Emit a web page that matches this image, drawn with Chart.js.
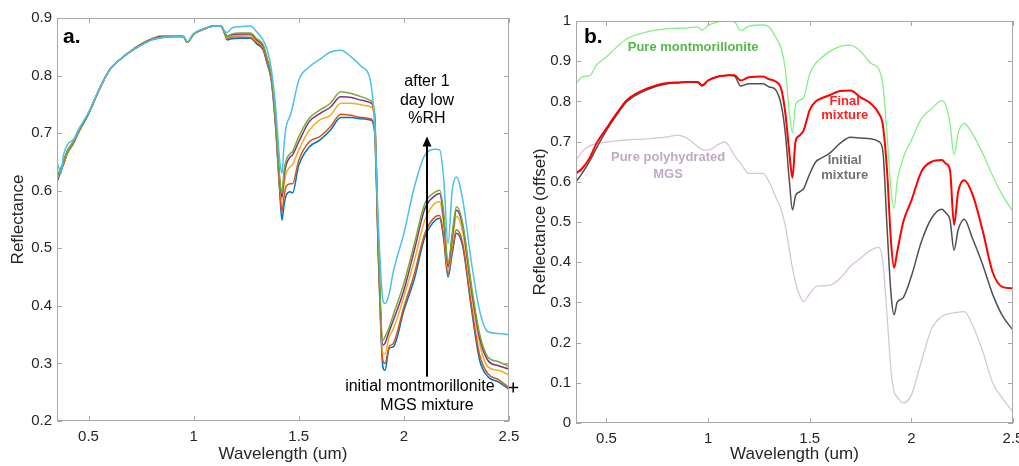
<!DOCTYPE html>
<html>
<head>
<meta charset="utf-8">
<script src="https://cdn.jsdelivr.net/npm/chart.js@4.4.0/dist/chart.umd.min.js"></script>
<style>
html, body { margin: 0; padding: 0; background: #fff; width: 1019px; height: 466px; overflow: hidden; }
canvas { position: absolute; top: 0; }
#graficoA { left: 0; }
#graficoB { left: 512px; }
</style>
</head>
<body>
<canvas id="graficoA" width="540" height="466"></canvas>
<canvas id="graficoB" width="507" height="466"></canvas>
<script>
// Panel a: espectros de la mezcla montmorillonita + MGS
const longOndaA = [0.35,0.37,0.38,0.40,0.43,0.45,0.50,0.55,0.60,0.65,0.70,0.75,0.80,0.85,0.90,0.95,0.97,1.00,1.05,1.10,
  1.13,1.15,1.16,1.18,1.22,1.27,1.30,1.33,1.35,1.37,1.39,1.41,1.42,1.43,1.44,1.46,1.47,1.50,1.55,1.60,
  1.65,1.70,1.75,1.80,1.84,1.86,1.88,1.90,1.91,1.93,1.95,2.00,2.05,2.10,2.15,2.17,2.19,2.21,2.23,2.25,
  2.28,2.32,2.36,2.40,2.45,2.50];

const azulA = [.615,.635,.645,.665,.683,.70,.734,.775,.81,.828,.842,.853,.862,.866,.868,.868,.858,.872,.881,.886,
  .886,.87,.862,.864,.865,.865,.855,.845,.82,.79,.71,.595,.549,.575,.592,.598,.596,.644,.676,.688,
  .705,.727,.727,.725,.723,.705,.47,.294,.288,.326,.329,.392,.447,.52,.549,.552,.514,.45,.491,.526,
  .503,.398,.306,.277,.268,.255];
const naranjaA = [.62,.638,.645,.667,.685,.70,.734,.775,.81,.828,.842,.854,.863,.869,.869,.868,.858,.872,.881,.886,
  .886,.871,.864,.867,.867,.866,.857,.847,.822,.792,.712,.60,.563,.59,.608,.612,.612,.653,.685,.694,
  .711,.733,.731,.727,.725,.708,.475,.305,.30,.329,.335,.398,.456,.526,.555,.557,.52,.455,.497,.532,
  .508,.405,.315,.282,.272,.258];
const amarilloA = [.62,.64,.648,.668,.685,.70,.735,.776,.81,.828,.843,.855,.864,.869,.869,.868,.858,.872,.881,.886,
  .886,.872,.866,.869,.870,.869,.860,.850,.825,.795,.716,.61,.584,.61,.63,.642,.645,.671,.705,.723,
  .731,.752,.752,.749,.746,.728,.48,.318,.317,.346,.36,.416,.479,.549,.579,.581,.54,.462,.51,.555,
  .528,.423,.335,.294,.288,.28];
const moradoA = [.625,.64,.65,.67,.686,.70,.734,.775,.81,.828,.842,.854,.863,.868,.868,.868,.858,.872,.881,.886,
  .886,.873,.868,.871,.872,.872,.862,.852,.827,.797,.72,.615,.589,.625,.645,.659,.662,.685,.72,.734,
  .745,.763,.762,.757,.753,.734,.485,.332,.335,.356,.375,.427,.497,.569,.592,.595,.55,.468,.52,.566,
  .538,.433,.345,.305,.296,.29];
const verdeA = [.625,.64,.65,.67,.686,.70,.734,.775,.81,.828,.842,.853,.862,.867,.868,.868,.858,.872,.881,.886,
  .886,.873,.868,.872,.874,.874,.864,.854,.83,.80,.722,.62,.595,.635,.653,.665,.668,.694,.726,.74,
  .752,.772,.769,.763,.757,.736,.49,.34,.346,.363,.385,.439,.508,.578,.598,.601,.56,.474,.526,.572,
  .543,.439,.352,.311,.303,.295];
const celesteA = [.65,.63,.66,.68,.69,.705,.736,.776,.81,.828,.842,.853,.862,.866,.868,.868,.859,.873,.882,.886,
  .887,.876,.875,.882,.885,.886,.876,.862,.845,.81,.745,.65,.63,.68,.711,.731,.745,.792,.815,.828,
  .841,.844,.832,.815,.792,.72,.53,.41,.404,.421,.46,.526,.607,.662,.672,.671,.618,.508,.601,.624,
  .584,.479,.392,.355,.352,.35];

// Panel b: espectros con desplazamiento
const longOndaB = [0.35,0.38,0.42,0.45,0.50,0.55,0.60,0.70,0.80,0.85,0.90,0.95,0.97,1.00,1.05,1.08,1.10,1.13,1.16,1.20,
  1.27,1.30,1.33,1.36,1.38,1.40,1.415,1.43,1.45,1.47,1.50,1.53,1.55,1.60,1.65,1.70,1.75,1.80,1.84,1.86,
  1.88,1.90,1.915,1.93,1.96,2.00,2.05,2.10,2.15,2.17,2.19,2.21,2.23,2.26,2.30,2.35,2.40,2.45,2.50];

const montmorillonitaB = [.844,.861,.865,.89,.911,.935,.956,.973,.981,.982,.983,.985,.977,.989,.998,1.0,1.0,.998,.976,.987,
  .99,.985,.962,.93,.88,.77,.722,.79,.803,.81,.868,.895,.905,.925,.937,.94,.925,.895,.88,.84,
  .72,.58,.534,.60,.66,.703,.758,.782,.802,.79,.746,.667,.721,.745,.72,.672,.615,.565,.526];
const mezclaFinalB = [.621,.633,.662,.695,.733,.77,.803,.832,.846,.847,.848,.848,.84,.852,.862,.864,.865,.865,.852,.86,
  .862,.855,.85,.83,.77,.67,.61,.70,.715,.728,.779,.80,.806,.816,.826,.827,.81,.795,.77,.74,
  .63,.45,.386,.425,.50,.553,.626,.65,.654,.645,.629,.493,.575,.604,.57,.48,.375,.338,.335];
const mezclaInicialB = [.60,.621,.654,.683,.728,.766,.799,.829,.844,.846,.848,.847,.838,.852,.862,.864,.865,.863,.838,.844,
  .844,.836,.83,.79,.72,.60,.53,.565,.575,.583,.62,.65,.657,.672,.696,.711,.709,.707,.70,.675,
  .49,.32,.269,.30,.312,.365,.452,.51,.532,.522,.505,.43,.48,.507,.46,.395,.32,.265,.231];
const mgsPuroB = [.654,.675,.69,.695,.699,.702,.704,.707,.712,.716,.707,.687,.68,.679,.693,.699,.691,.665,.646,.621,
  .621,.60,.565,.53,.49,.43,.385,.35,.318,.302,.322,.339,.341,.343,.36,.39,.41,.43,.437,.40,
  .27,.13,.078,.065,.05,.07,.155,.235,.265,.27,.272,.274,.276,.277,.245,.18,.10,.06,.028];

// Ticks de los ejes
const ticksX = [0.5, 1, 1.5, 2, 2.5];
const ticksYA = [0.2, 0.3, 0.4, 0.5, 0.6, 0.7, 0.8, 0.9];
const ticksYB = [0, 0.1, 0.2, 0.3, 0.4, 0.5, 0.6, 0.7, 0.8, 0.9, 1];

const FUENTE = '"Liberation Sans", Arial, Helvetica, sans-serif';
const COLOR_TEXTO = '#262626';

function serie(xs, ys) {
  return xs.map((x, i) => ({ x: x, y: ys[i] }));
}

function linea(xs, ys, color, ancho) {
  return {
    data: serie(xs, ys),
    borderColor: color,
    borderWidth: ancho,
    pointRadius: 0,
    cubicInterpolationMode: 'monotone',
    fill: false
  };
}

// Caja y ticks hacia dentro, estilo MATLAB, más textos del panel
const marcoMatlab = {
  id: 'marcoMatlab',
  afterDatasetsDraw(chart, args, opts) {
    const ctx = chart.ctx;
    const a = chart.chartArea;
    const sx = chart.scales.x, sy = chart.scales.y;
    ctx.save();
    ctx.strokeStyle = '#a8a8a8';
    ctx.lineWidth = 1;
    ctx.strokeRect(Math.round(a.left) + 0.5, Math.round(a.top) + 0.5,
      Math.round(a.right - a.left) - 1, Math.round(a.bottom - a.top) - 1);
    const L = 5;
    ctx.beginPath();
    sx.ticks.forEach(t => {
      const px = Math.round(sx.getPixelForValue(t.value)) + 0.5;
      ctx.moveTo(px, a.bottom); ctx.lineTo(px, a.bottom - L);
      ctx.moveTo(px, a.top); ctx.lineTo(px, a.top + L);
    });
    sy.ticks.forEach(t => {
      const py = Math.round(sy.getPixelForValue(t.value)) + 0.5;
      ctx.moveTo(a.left, py); ctx.lineTo(a.left + L, py);
      ctx.moveTo(a.right, py); ctx.lineTo(a.right - L, py);
    });
    ctx.stroke();

    // flecha
    if (opts.flecha) {
      const f = opts.flecha;
      const x = sx.getPixelForValue(f.x);
      const y0 = sy.getPixelForValue(f.desde);
      const y1 = sy.getPixelForValue(f.hasta);
      ctx.strokeStyle = '#000';
      ctx.fillStyle = '#000';
      ctx.lineWidth = 2;
      ctx.beginPath();
      ctx.moveTo(x, y0); ctx.lineTo(x, y1 + 8);
      ctx.stroke();
      ctx.beginPath();
      ctx.moveTo(x, y1); ctx.lineTo(x - 4.5, y1 + 10); ctx.lineTo(x + 4.5, y1 + 10);
      ctx.closePath();
      ctx.fill();
    }

    // textos
    ctx.textAlign = 'center';
    ctx.textBaseline = 'middle';
    (opts.textos || []).forEach(t => {
      ctx.font = t.fuente;
      ctx.fillStyle = t.color;
      ctx.fillText(t.texto, sx.getPixelForValue(t.x), sy.getPixelForValue(t.y));
    });

    // letra del panel
    ctx.textAlign = 'left';
    ctx.textBaseline = 'alphabetic';
    ctx.font = 'bold 21px ' + FUENTE;
    ctx.fillStyle = '#000';
    ctx.fillText(opts.letra, a.left + opts.letraDx, a.top + opts.letraDy);
    ctx.restore();
  }
};

function escalas(ticksY, minY, maxY, anchoY, altoX, padTituloY, tituloY) {
  return {
    x: {
      type: 'linear', min: 0.35, max: 2.5,
      afterBuildTicks: s => { s.ticks = ticksX.map(v => ({ value: v })); },
      afterFit: s => { s.height = altoX; s.paddingLeft = 0; s.paddingRight = 0; },
      grid: { display: false, drawTicks: false },
      border: { display: false },
      ticks: { autoSkip: false, maxRotation: 0, padding: 7, color: COLOR_TEXTO,
        font: { family: FUENTE, size: 15 }, callback: v => String(v) },
      title: { display: true, text: 'Wavelength (um)', color: COLOR_TEXTO,
        font: { family: FUENTE, size: 17 }, padding: { top: 0, bottom: 1 } }
    },
    y: {
      type: 'linear', min: minY, max: maxY,
      afterBuildTicks: s => { s.ticks = ticksY.map(v => ({ value: v })); },
      afterFit: s => { s.width = anchoY; s.paddingTop = 0; s.paddingBottom = 0; },
      grid: { display: false, drawTicks: false },
      border: { display: false },
      ticks: { autoSkip: false, padding: 5, color: COLOR_TEXTO,
        font: { family: FUENTE, size: 15 }, callback: v => String(v) },
      title: { display: true, text: tituloY, color: COLOR_TEXTO,
        font: { family: FUENTE, size: 17 }, padding: { top: padTituloY, bottom: 0 } }
    }
  };
}

// Marca '+' negra al final del panel a
const marcaFinA = [{ x: 2.52, y: 0.258 }];

new Chart(document.getElementById('graficoA'), {
  type: 'line',
  data: {
    datasets: [
      linea(longOndaA, azulA, '#0072BD', 1.5),
      linea(longOndaA, naranjaA, '#D95319', 1.5),
      linea(longOndaA, amarilloA, '#EDB120', 1.5),
      linea(longOndaA, moradoA, '#7E2F8E', 1.5),
      linea(longOndaA, verdeA, '#77AC30', 1.5),
      linea(longOndaA, celesteA, '#4DBEEE', 1.5),
      { data: marcaFinA, showLine: false, pointStyle: 'cross', pointRadius: 5,
        borderColor: '#000', borderWidth: 1.5, clip: false }
    ].reverse()
  },
  options: {
    responsive: false,
    animation: false,
    layout: { padding: { top: 18, right: 31, bottom: 0, left: 0 } },
    scales: escalas(ticksYA, 0.2, 0.9, 57, 45, 8, 'Reflectance'),
    plugins: {
      legend: { display: false },
      tooltip: { enabled: false },
      marcoMatlab: {
        letra: 'a.', letraDx: 6, letraDy: 25,
        flecha: { x: 2.11, desde: 0.277, hasta: 0.694 },
        textos: [
          { texto: 'after 1', x: 2.11, y: 0.789, color: '#000', fuente: '16px ' + FUENTE },
          { texto: 'day low', x: 2.11, y: 0.757, color: '#000', fuente: '16px ' + FUENTE },
          { texto: '%RH', x: 2.11, y: 0.726, color: '#000', fuente: '16px ' + FUENTE },
          { texto: 'initial montmorillonite', x: 2.076, y: 0.259, color: '#000', fuente: '16px ' + FUENTE },
          { texto: 'MGS mixture', x: 2.11, y: 0.227, color: '#000', fuente: '16px ' + FUENTE }
        ]
      }
    }
  },
  plugins: [marcoMatlab]
});

new Chart(document.getElementById('graficoB'), {
  type: 'line',
  data: {
    datasets: [
      linea(longOndaB, mezclaFinalB, '#ff0000', 2),
      linea(longOndaB, mezclaInicialB, '#505050', 1.5),
      linea(longOndaB, montmorillonitaB, '#85f085', 1.3),
      linea(longOndaB, mgsPuroB, '#dac3dd', 1.3)
    ]
  },
  options: {
    responsive: false,
    animation: false,
    layout: { padding: { top: 21, right: 6, bottom: 0, left: 0 } },
    scales: escalas(ticksYB, 0, 1, 64, 43, 18, 'Reflectance (offset)'),
    plugins: {
      legend: { display: false },
      tooltip: { enabled: false },
      marcoMatlab: {
        letra: 'b.', letraDx: 8, letraDy: 22,
        textos: [
          { texto: 'Pure montmorillonite', x: 0.926, y: 0.935, color: '#55b84a', fuente: 'bold 13px ' + FUENTE },
          { texto: 'Final', x: 1.672, y: 0.80, color: '#ff2020', fuente: 'bold 13px ' + FUENTE },
          { texto: 'mixture', x: 1.672, y: 0.765, color: '#ff2020', fuente: 'bold 13px ' + FUENTE },
          { texto: 'Initial', x: 1.672, y: 0.652, color: '#737373', fuente: 'bold 13px ' + FUENTE },
          { texto: 'mixture', x: 1.672, y: 0.617, color: '#737373', fuente: 'bold 13px ' + FUENTE },
          { texto: 'Pure polyhydrated', x: 0.803, y: 0.66, color: '#c2a8c8', fuente: 'bold 13px ' + FUENTE },
          { texto: 'MGS', x: 0.803, y: 0.619, color: '#c2a8c8', fuente: 'bold 13px ' + FUENTE }
        ]
      }
    }
  },
  plugins: [marcoMatlab]
});
</script>
</body>
</html>
